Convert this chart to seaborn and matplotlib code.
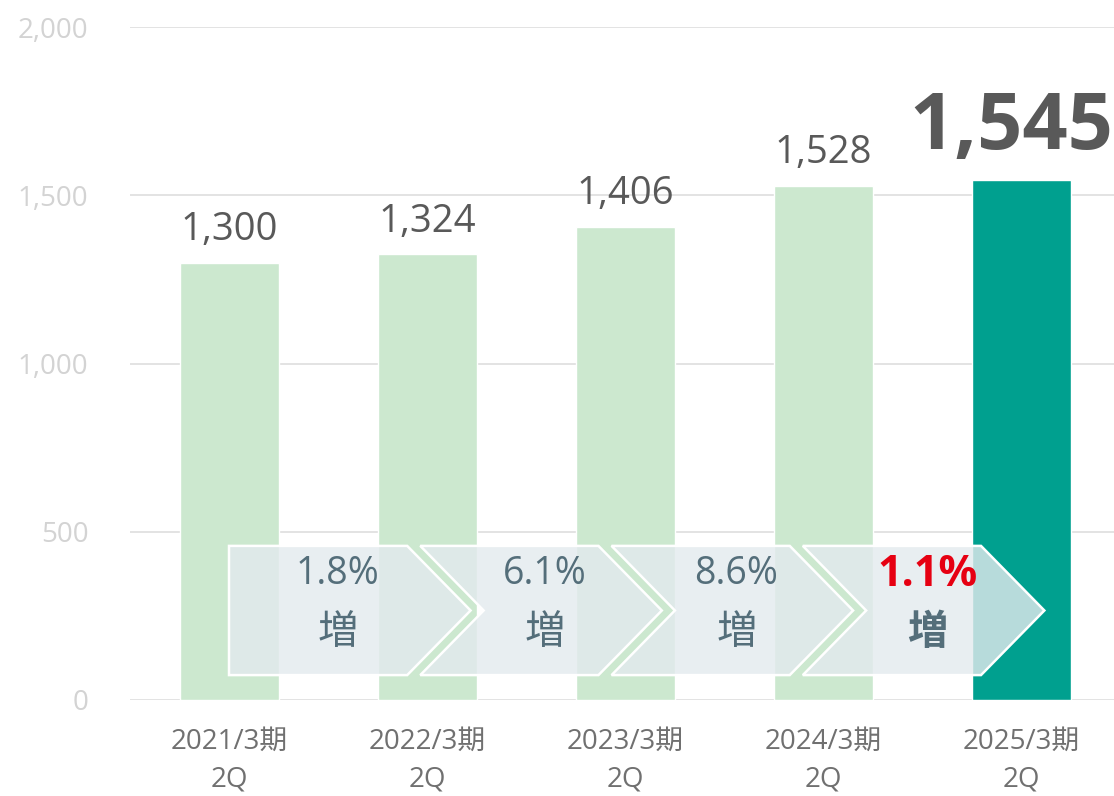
import numpy as np
import pandas as pd
import matplotlib
matplotlib.use("Agg")
import matplotlib.pyplot as plt
from matplotlib.patches import Polygon
import seaborn as sns

# data
periods = ["2021/3期\n2Q", "2022/3期\n2Q", "2023/3期\n2Q", "2024/3期\n2Q", "2025/3期\n2Q"]
values = [1300, 1324, 1406, 1528, 1545]
growth = ["1.8%", "6.1%", "8.6%", "1.1%"]
bar_colors = ["#cce8cf", "#cce8cf", "#cce8cf", "#cce8cf", "#00a08f"]
y_ticks = [0, 500, 1000, 1500, 2000]

sns.set_theme(style="white")
plt.rcParams['font.family'] = ['Open Sans', 'Noto Sans CJK JP', 'DejaVu Sans']

df = pd.DataFrame({"period": periods, "value": values})

fig = plt.figure(figsize=(11.14, 7.96), dpi=100)
ax = fig.add_axes([130 / 1114, 96 / 796, 990 / 1114, 673 / 796])

sns.barplot(data=df, x="period", y="value", hue="period", palette=bar_colors,
            width=0.5, legend=False, saturation=1, ax=ax, zorder=2)

ax.set_ylim(0, 2000)
ax.set_xlim(-0.5, len(periods) - 0.5)
ax.set_yticks(y_ticks)
ax.set_yticklabels([f"{v:,}" for v in y_ticks])
ax.grid(axis="y", color="#e0e0e0", linewidth=1.3, zorder=0)
ax.set_axisbelow(True)
for s in ax.spines.values():
    s.set_visible(False)
ax.set_xlabel("")
ax.set_ylabel("")
ax.tick_params(axis="y", length=0, pad=30, labelsize=20, labelcolor="#d3d3d3")
ax.tick_params(axis="x", length=0, pad=20, labelsize=20, labelcolor="#707070")
for lbl in ax.get_xticklabels():
    lbl.set_linespacing(1.45)

# value labels
for i, v in enumerate(values):
    last = i == len(values) - 1
    ax.annotate(f"{v:,}", (i, v), xytext=(-7, 9) if last else (0, 10),
                textcoords="offset points", ha="center", va="bottom",
                fontsize=57 if last else 27.5, fontweight="bold" if last else "normal",
                color="#595959", annotation_clip=False)

# growth chevrons
top, bot = 458, 74
mid = (top + bot) / 2
body, depth, step = 0.9, 0.32, 0.966
for i, g in enumerate(growth):
    x0 = i * step
    if i == 0:
        pts = [(x0, top), (x0 + body, top), (x0 + body + depth, mid),
               (x0 + body, bot), (x0, bot)]
    else:
        pts = [(x0, top), (x0 + body, top), (x0 + body + depth, mid),
               (x0 + body, bot), (x0, bot), (x0 + depth, mid)]
    ax.add_patch(Polygon(pts, closed=True, facecolor="#e3eaee", alpha=0.81,
                         edgecolor="none", zorder=3))
    ax.add_patch(Polygon(pts, closed=True, facecolor="none",
                         edgecolor="white", linewidth=1.8, zorder=4))
    last = i == len(growth) - 1
    tx = x0 + (0.55 if i == 0 else 0.63)
    ax.text(tx, 373, g, ha="center", va="center", fontsize=31 if last else 27,
            color="#e60012" if last else "#546e7a",
            fontweight="bold" if last else "normal", zorder=5)
    ax.text(tx, 202, "増", ha="center", va="center", fontsize=29,
            color="#546e7a", fontweight="bold" if last else "normal",
            family=['Noto Sans CJK JP'], zorder=5)

plt.savefig("out.png", dpi=100)
